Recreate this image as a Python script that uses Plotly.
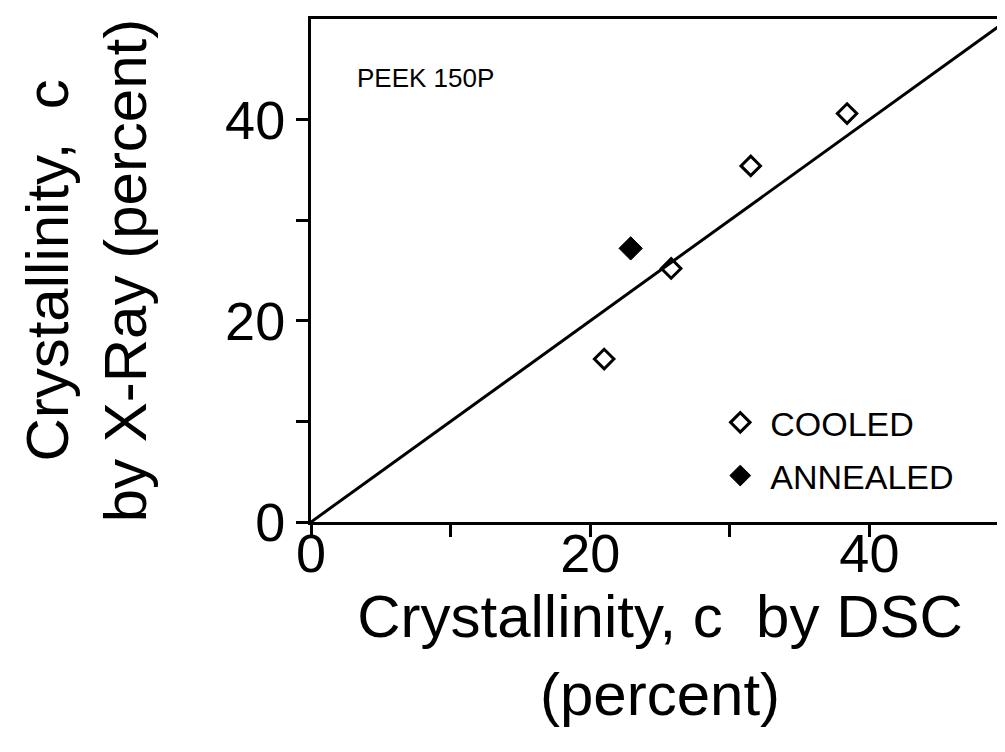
import plotly.graph_objects as go

# Data
cooled_dsc = [21.0, 25.8, 31.5, 38.4]
cooled_xray = [16.2, 25.2, 35.4, 40.6]
annealed_dsc = [22.9]
annealed_xray = [27.2]
line_x = [0, 50]
line_y = [0, 50]

major_ticks = [0, 20, 40]
minor_ticks = [10, 30]

FONT = "Liberation Sans, Arial, sans-serif"

fig = go.Figure()
fig.add_trace(go.Scatter(x=line_x, y=line_y, mode="lines",
                         line=dict(color="black", width=3),
                         showlegend=False, hoverinfo="skip"))
fig.add_trace(go.Scatter(x=cooled_dsc, y=cooled_xray, mode="markers", name="COOLED",
                         legendgroup="a",
                         marker=dict(symbol="diamond-open", size=15, color="black",
                                     line=dict(width=3, color="black"))))
fig.add_trace(go.Scatter(x=annealed_dsc, y=annealed_xray, mode="markers", name="ANNEALED",
                         legendgroup="b",
                         marker=dict(symbol="diamond", size=18, color="black",
                                     line=dict(width=1, color="black"))))

axis_common = dict(
    range=[0, 50], showgrid=False, zeroline=False, automargin=False,
    showline=True, linecolor="black", linewidth=3, mirror=True,
    ticks="outside", ticklen=12, tickwidth=2.5, tickcolor="black",
    tickvals=major_ticks, ticktext=[str(v) for v in major_ticks],
    minor=dict(tickvals=minor_ticks, ticks="outside", ticklen=12,
               tickwidth=2.5, tickcolor="black", showgrid=False),
    tickfont=dict(family=FONT, size=54, color="black"),
)

fig.update_layout(
    width=1005, height=752,
    margin=dict(l=303, r=4, t=11, b=238),
    paper_bgcolor="white", plot_bgcolor="white",
    xaxis=dict(**axis_common, ticklabelstandoff=-30,
               title=dict(text="Crystallinity, c  by DSC<br>(percent)",
                          font=dict(family=FONT, size=60, color="black"),
                          standoff=10)),
    yaxis=dict(**axis_common,
               title=dict(text="Crystallinity,  c<br>by X-Ray (percent)",
                          font=dict(family=FONT, size=60, color="black"),
                          standoff=60)),
    legend=dict(x=0.572, y=0.255, xanchor="left", yanchor="top",
                font=dict(family=FONT, size=34, color="black"),
                itemwidth=50,
                bgcolor="rgba(0,0,0,0)", traceorder="grouped", tracegroupgap=6),
    annotations=[dict(x=0.063, y=0.883, xref="paper", yref="paper",
                      xanchor="left", yanchor="middle", showarrow=False,
                      text="PEEK 150P",
                      font=dict(family=FONT, size=26, color="black"))],
    showlegend=True,
)

fig.write_html("out.html")
